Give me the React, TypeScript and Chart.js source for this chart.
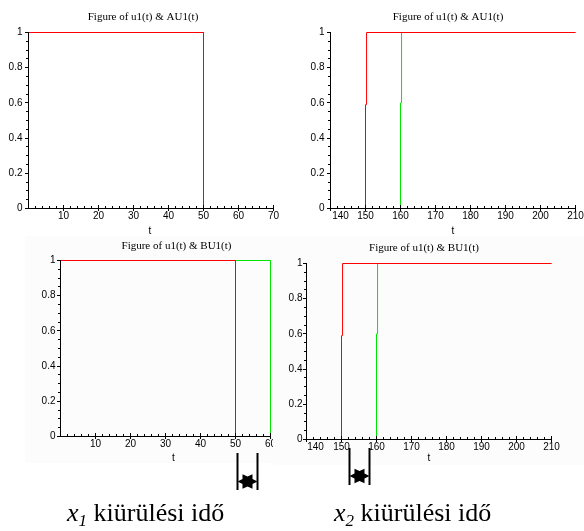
import React, { useEffect, useRef } from 'react';
import { Chart, registerables } from 'chart.js';

Chart.register(...registerables);

// ---------- data ----------
const RED = '#ff0000';
const GREEN = '#00e600';

// top-left: Figure of u1(t) & AU1(t), t in [0,70]
const aT_u1 = [0, 50, 50, 70];
const aU1 = [1, 1, 0, 0];
const aT_au1 = [0, 50, 50, 70];
const aAU1 = [1, 1, 0, 0];

// top-right: Figure of u1(t) & AU1(t), t in [140,210]
const bT_u1 = [140, 150, 150, 150.3, 150.3, 210];
const bU1 = [0, 0, 0.59, 0.59, 1, 1];
const bT_au1 = [140, 160, 160, 160.3, 160.3, 210];
const bAU1 = [0, 0, 0.6, 0.6, 1, 1];

// bottom-left: Figure of u1(t) & BU1(t), t in [0,60]
const cT_u1 = [0, 50, 50, 60];
const cU1 = [1, 1, 0, 0];
const cT_bu1 = [0, 60, 60];
const cBU1 = [1, 1, 0];

// bottom-right: Figure of u1(t) & BU1(t), t in [140,210]
const dT_u1 = [140, 150, 150, 150.3, 150.3, 210];
const dU1 = [0, 0, 0.59, 0.59, 1, 1];
const dT_bu1 = [140, 160, 160, 160.3, 160.3, 210];
const dBU1 = [0, 0, 0.6, 0.6, 1, 1];

const yMajor = [0, 0.2, 0.4, 0.6, 0.8, 1];
const xMajor70 = [10, 20, 30, 40, 50, 60, 70];
const xMajor60 = [10, 20, 30, 40, 50, 60];
const xMajorHigh = [140, 150, 160, 170, 180, 190, 200, 210];
const X_MINOR_STEP = 2;
const Y_MINOR_STEP = 0.05;

const SANS = '"Liberation Sans", Arial, Helvetica, sans-serif';
const SERIF = '"Liberation Serif", "Times New Roman", serif';

type Series = { label: string; t: number[]; v: number[]; color: string };
type PanelSpec = {
  title: string;
  series: Series[];
  xMin: number;
  xMax: number;
  xMajor: number[];
  firstShift: number;
  left: number;
  top: number;
  width: number;
  height: number;
  bg: string;
  areaLeft: number;
  areaTop: number;
  areaRight: number;
  areaBottom: number;
  yPad: number;
  titleDx: number;
  titleY: number;
  tDx: number;
  tY: number;
};

const near = (a: number, b: number) => Math.abs(a - b) < 1e-6;

const maplePlugin = {
  id: 'maple',
  afterDraw(chart: any, _args: any, opts: any) {
    const ctx = chart.ctx as CanvasRenderingContext2D;
    const xs = chart.scales.x;
    const ys = chart.scales.y;
    const ca = chart.chartArea;
    const by = Math.floor(ca.bottom);
    const lx = Math.floor(ca.left);
    ctx.save();
    ctx.strokeStyle = '#000';
    ctx.lineWidth = 1;
    ctx.beginPath();
    for (const tk of xs.ticks) {
      const px = Math.round(xs.getPixelForValue(tk.value) - 0.5) + 0.5;
      const major = opts.xMajor.some((m: number) => near(m, tk.value));
      if (major) {
        ctx.moveTo(px, by - 3);
        ctx.lineTo(px, by + 3);
      } else {
        ctx.moveTo(px, by - 2);
        ctx.lineTo(px, by);
      }
    }
    for (const tk of ys.ticks) {
      const py = Math.round(ys.getPixelForValue(tk.value) - 0.5) + 0.5;
      const major = yMajor.some((m) => near(m, tk.value));
      if (major) {
        ctx.moveTo(lx - 3, py);
        ctx.lineTo(lx, py);
      } else {
        ctx.moveTo(lx - 2, py);
        ctx.lineTo(lx, py);
      }
    }
    ctx.stroke();

    ctx.fillStyle = '#000';
    ctx.textAlign = 'center';
    ctx.textBaseline = 'middle';
    ctx.font = `10px ${SANS}`;
    opts.xMajor.forEach((m: number, i: number) => {
      let px = xs.getPixelForValue(m);
      if (i === 0) px += opts.firstShift;
      ctx.fillText(String(m), px, by + 8);
    });
    const cx = (ca.left + ca.right) / 2;
    ctx.fillText('t', cx + opts.tDx, opts.tY);
    ctx.font = `11px ${SERIF}`;
    ctx.fillText(opts.title, cx + opts.titleDx, opts.titleY);
    ctx.restore();
  },
};

function Panel({ spec }: { spec: PanelSpec }) {
  const ref = useRef<HTMLCanvasElement>(null);
  useEffect(() => {
    const canvas = ref.current!;
    const chart = new Chart(canvas, {
      type: 'line',
      data: {
        datasets: spec.series.map((s) => ({
          label: s.label,
          data: s.t.map((t, i) => ({ x: t, y: s.v[i] })),
          borderColor: s.color,
          backgroundColor: s.color,
          borderWidth: 1,
          pointRadius: 0,
          fill: false,
          tension: 0,
          clip: false as any,
        })),
      },
      options: {
        responsive: false,
        animation: false,
        devicePixelRatio: 1,
        events: [],
        layout: {
          autoPadding: false,
          padding: { left: 0, top: spec.areaTop, right: spec.width - spec.areaRight, bottom: 0 },
        },
        plugins: {
          legend: { display: false },
          tooltip: { enabled: false },
          title: { display: false },
          maple: {
            xMajor: spec.xMajor,
            firstShift: spec.firstShift,
            title: spec.title,
            titleDx: spec.titleDx,
            titleY: spec.titleY,
            tDx: spec.tDx,
            tY: spec.tY,
          },
        } as any,
        scales: {
          x: {
            type: 'linear',
            min: spec.xMin,
            max: spec.xMax,
            afterFit: (s: any) => {
              s.height = spec.height - spec.areaBottom;
            },
            ticks: { display: false, stepSize: X_MINOR_STEP, autoSkip: false },
            grid: { display: true, drawOnChartArea: false, drawTicks: false },
            border: { display: true, color: '#000', width: 1, z: 1 },
          },
          y: {
            type: 'linear',
            min: 0,
            max: 1,
            afterFit: (s: any) => {
              s.width = spec.areaLeft;
            },
            ticks: {
              stepSize: Y_MINOR_STEP,
              autoSkip: false,
              padding: spec.yPad,
              color: '#000',
              font: { family: SANS, size: 10 },
              callback: (v: any) => {
                const m = yMajor.find((y) => near(y, Number(v)));
                return m === undefined ? '' : String(m);
              },
            },
            grid: { display: true, drawOnChartArea: false, drawTicks: false },
            border: { display: true, color: '#000', width: 1, z: 1 },
          },
        },
      } as any,
      plugins: [maplePlugin],
    });
    return () => chart.destroy();
  }, []);
  return (
    <canvas
      ref={ref}
      width={spec.width}
      height={spec.height}
      style={{
        position: 'absolute',
        left: spec.left,
        top: spec.top,
        width: spec.width,
        height: spec.height,
        background: spec.bg,
      }}
    />
  );
}

const panels: PanelSpec[] = [
  {
    title: 'Figure of u1(t) & AU1(t)',
    series: [
      { label: 'u1(t)', t: aT_u1, v: aU1, color: RED },
      { label: 'AU1(t)', t: aT_au1, v: aAU1, color: GREEN },
    ],
    xMin: 0, xMax: 70, xMajor: xMajor70, firstShift: 0,
    left: 0, top: 0, width: 292, height: 245, bg: '#ffffff',
    areaLeft: 28.5, areaTop: 32.5, areaRight: 273.5, areaBottom: 208.5,
    yPad: 6, titleDx: -8, titleY: 17, tDx: -1, tY: 231,
  },
  {
    title: 'Figure of u1(t) & AU1(t)',
    series: [
      { label: 'u1(t)', t: bT_u1, v: bU1, color: RED },
      { label: 'AU1(t)', t: bT_au1, v: bAU1, color: GREEN },
    ],
    xMin: 140, xMax: 210, xMajor: xMajorHigh, firstShift: 10,
    left: 292, top: 0, width: 292, height: 245, bg: '#ffffff',
    areaLeft: 38.5, areaTop: 32.5, areaRight: 283.5, areaBottom: 208.5,
    yPad: 6, titleDx: -5, titleY: 17, tDx: 0, tY: 231,
  },
  {
    title: 'Figure of u1(t) & BU1(t)',
    series: [
      { label: 'u1(t)', t: cT_u1, v: cU1, color: RED },
      { label: 'BU1(t)', t: cT_bu1, v: cBU1, color: GREEN },
    ],
    xMin: 0, xMax: 60, xMajor: xMajor60, firstShift: 0,
    left: 25, top: 236, width: 248, height: 227, bg: '#fcfcfc',
    areaLeft: 35.5, areaTop: 24.5, areaRight: 245.5, areaBottom: 200.5,
    yPad: 5, titleDx: 11, titleY: 10, tDx: 8, tY: 222,
  },
  {
    title: 'Figure of u1(t) & BU1(t)',
    series: [
      { label: 'u1(t)', t: dT_u1, v: dU1, color: RED },
      { label: 'BU1(t)', t: dT_bu1, v: dBU1, color: GREEN },
    ],
    xMin: 140, xMax: 210, xMajor: xMajorHigh, firstShift: 9,
    left: 273, top: 236, width: 311, height: 229, bg: '#fcfcfc',
    areaLeft: 33.5, areaTop: 27.5, areaRight: 278.5, areaBottom: 203.5,
    yPad: 4, titleDx: -5, titleY: 12, tDx: 0, tY: 222,
  },
];

function hexagram(cx: number, cy: number, R: number, sy: number) {
  const pts: string[] = [];
  for (let i = 0; i < 12; i++) {
    const a = (i * Math.PI) / 6;
    const r = i % 2 === 0 ? R : R / Math.sqrt(3);
    pts.push(`${(cx + r * Math.cos(a)).toFixed(2)},${(cy + r * Math.sin(a) * sy).toFixed(2)}`);
  }
  return 'M' + pts.join('L') + 'Z';
}

export default function App() {
  return (
    <div
      style={{
        position: 'absolute',
        left: 0,
        top: 0,
        width: 584,
        height: 531,
        background: '#ffffff',
        overflow: 'hidden',
      }}
    >
      {panels.map((p, i) => (
        <Panel key={i} spec={p} />
      ))}
      <svg
        width={584}
        height={531}
        style={{ position: 'absolute', left: 0, top: 0, pointerEvents: 'none' }}
      >
        <line x1={237.5} y1={453} x2={237.5} y2={490} stroke="#000" strokeWidth={2} />
        <line x1={257.5} y1={453} x2={257.5} y2={490} stroke="#000" strokeWidth={2} />
        <path d={hexagram(247.5, 481.5, 10, 0.85)} fill="#000" />
        <line x1={349.5} y1={448} x2={349.5} y2={485} stroke="#000" strokeWidth={2} />
        <line x1={369.5} y1={448} x2={369.5} y2={485} stroke="#000" strokeWidth={2} />
        <path d={hexagram(359.5, 476, 10, 0.85)} fill="#000" />
        <text x={67} y={521} fontFamily={SERIF} fontSize={26} fill="#000">
          <tspan fontStyle="italic">x</tspan>
          <tspan fontStyle="italic" fontSize={17} dy={5}>1</tspan>
          <tspan dy={-5}> kiürülési idő</tspan>
        </text>
        <text x={334} y={521} fontFamily={SERIF} fontSize={26} fill="#000">
          <tspan fontStyle="italic">x</tspan>
          <tspan fontStyle="italic" fontSize={17} dy={5}>2</tspan>
          <tspan dy={-5}> kiürülési idő</tspan>
        </text>
      </svg>
    </div>
  );
}
